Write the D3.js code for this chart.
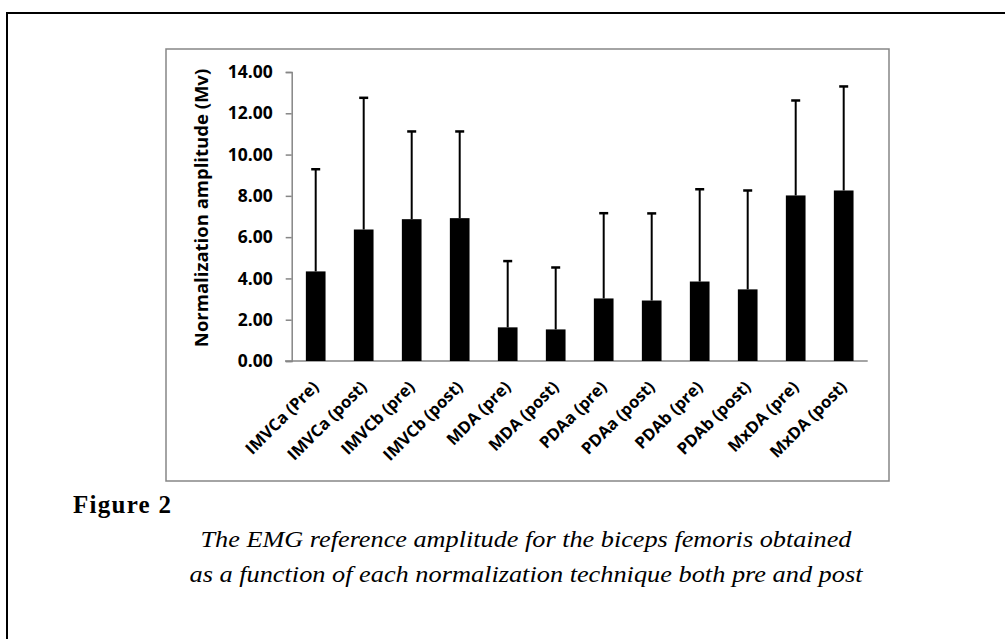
<!DOCTYPE html>
<html>
<head>
<meta charset="utf-8">
<script src="https://cdn.jsdelivr.net/npm/d3@7"></script>
<style>
  body { margin: 0; background: #fff; }
  svg { display: block; }
</style>
</head>
<body>
<div id="output"></div>
<script>
// values
const categories = ["IMVCa (Pre)", "IMVCa (post)", "IMVCb (pre)", "IMVCb (post)",
    "MDA (pre)", "MDA (post)", "PDAa (pre)", "PDAa (post)",
    "PDAb (pre)", "PDAb (post)", "MxDA (pre)", "MxDA (post)"];
const means = [4.34, 6.37, 6.87, 6.92, 1.63, 1.53, 3.03, 2.93, 3.85, 3.47, 8.02, 8.26];
const upper = [9.29, 12.75, 11.12, 11.12, 4.84, 4.53, 7.16, 7.15, 8.32, 8.26, 12.62, 13.30];
const yTicks = [0, 2, 4, 6, 8, 10, 12, 14];
const yTitle = "Normalization amplitude (Mv)";
const figLabel = "Figure 2";
const caption = ["The EMG reference amplitude for the biceps femoris obtained",
    "as a function of each normalization technique both pre and post"];

const width = 1005, height = 639;
const gray = "#868686";

const svg = d3.select("#output").append("svg")
    .attr("width", width)
    .attr("height", height);

// page frame (left + top only, cropped)
svg.append("path")
    .attr("d", `M7,${height}V13H${width}`)
    .attr("fill", "none")
    .attr("stroke", "#000")
    .attr("stroke-width", 2);

// chart area frame
svg.append("rect")
    .attr("x", 166).attr("y", 49)
    .attr("width", 723).attr("height", 432)
    .attr("fill", "none")
    .attr("stroke", gray)
    .attr("stroke-width", 1.5);

const x = d3.scaleBand()
    .domain(categories)
    .range([291.7, 867.7])
    .paddingInner(0.59)
    .paddingOuter(0.295);

const y = d3.scaleLinear()
    .domain([0, 14])
    .range([361, 72]);

// y axis
const yAxis = svg.append("g")
    .attr("transform", "translate(291.7,0)")
    .call(d3.axisLeft(y).tickValues(yTicks).tickFormat(d3.format(".2f")).tickSize(6).tickPadding(13));
yAxis.select(".domain").attr("stroke", gray).attr("stroke-width", 1.5);
yAxis.selectAll(".tick line").attr("stroke", gray).attr("stroke-width", 1.5);
yAxis.selectAll(".tick text")
    .attr("fill", "#000")
    .style("font", "bold 17.5px 'Open Sans', sans-serif");

// x axis
const xAxis = svg.append("g")
    .attr("transform", "translate(0,361)")
    .call(d3.axisBottom(x).tickSize(0).tickSizeOuter(0).tickPadding(0));
xAxis.select(".domain").attr("stroke", gray).attr("stroke-width", 1.5)
    .attr("d", "M285,0H867.7");
xAxis.selectAll(".tick text")
    .attr("fill", "#000")
    .style("font", "bold 16.5px 'Open Sans', sans-serif")
    .attr("text-anchor", "end")
    .attr("x", 0).attr("y", 0).attr("dy", 0)
    .attr("transform", "translate(4,27) rotate(-45)");

// bars
svg.append("g")
    .selectAll("rect")
    .data(categories)
    .join("rect")
    .attr("x", d => x(d))
    .attr("width", x.bandwidth())
    .attr("y", (d, i) => y(means[i]))
    .attr("height", (d, i) => y(0) - y(means[i]))
    .attr("fill", "#000");

// error bars (upper only)
const err = svg.append("g").attr("stroke", "#000");
err.selectAll("line.stem")
    .data(categories)
    .join("line")
    .attr("class", "stem")
    .attr("x1", d => x(d) + x.bandwidth() / 2)
    .attr("x2", d => x(d) + x.bandwidth() / 2)
    .attr("y1", (d, i) => y(means[i]))
    .attr("y2", (d, i) => y(upper[i]))
    .attr("stroke-width", 2);
err.selectAll("line.cap")
    .data(categories)
    .join("line")
    .attr("class", "cap")
    .attr("x1", d => x(d) + x.bandwidth() / 2 - 4.5)
    .attr("x2", d => x(d) + x.bandwidth() / 2 + 4.5)
    .attr("y1", (d, i) => y(upper[i]))
    .attr("y2", (d, i) => y(upper[i]))
    .attr("stroke-width", 2.5);

// y axis title
svg.append("text")
    .attr("transform", "translate(208,208) rotate(-90)")
    .attr("text-anchor", "middle")
    .style("font", "bold 18.5px 'Open Sans', sans-serif")
    .text(yTitle);

// figure label and caption
svg.append("text")
    .attr("x", 73).attr("y", 513)
    .attr("textLength", 98)
    .style("font", "bold 25px 'Liberation Serif', serif")
    .text(figLabel);

svg.append("g")
    .selectAll("text")
    .data(caption)
    .join("text")
    .attr("x", 526)
    .attr("y", (d, i) => 546.5 + i * 35)
    .attr("text-anchor", "middle")
    .attr("textLength", (d, i) => i === 0 ? 651 : 673)
    .attr("lengthAdjust", "spacingAndGlyphs")
    .style("font", "italic 24px 'Liberation Serif', serif")
    .text(d => d);
</script>
</body>
</html>
